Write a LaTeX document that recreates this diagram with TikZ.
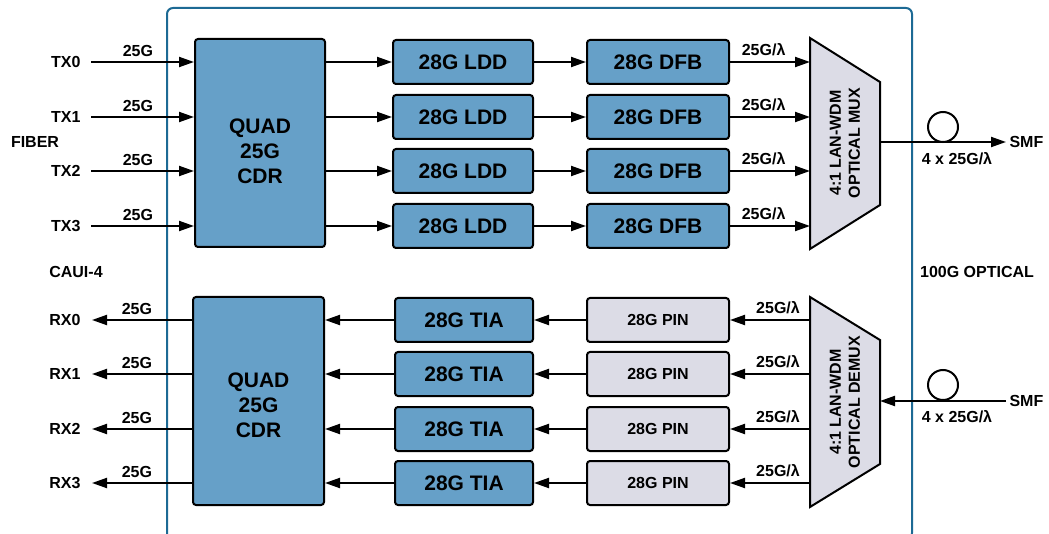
\documentclass[tikz,border=0pt]{standalone}
\usepackage{fontspec}
\setmainfont{Liberation Sans}
\usetikzlibrary{arrows.meta, positioning}
\definecolor{cdrblue}  {HTML}{66A0C8}
\definecolor{pingrey}  {HTML}{DCDCE6}
\definecolor{edgeblue} {HTML}{1D6A94}

\begin{document}
\begin{tikzpicture}[x=1pt, y=-1pt, font=\fontsize{16}{19}\selectfont\bfseries,
    blk/.style={draw, line width=2pt, rounded corners=3pt, fill=cdrblue, minimum height=44pt, inner sep=0pt, font=\fontsize{21}{25}\selectfont\bfseries},
    pinblk/.style={blk, fill=pingrey, font=\fontsize{16}{19}\selectfont\bfseries},
    arr/.style={line width=2pt, -{Triangle[length=15pt, width=10pt]}},
    ln/.style={line width=2pt}]
  \useasboundingbox (0,0) rectangle (1049,534);
  \draw[edgeblue, line width=2pt, rounded corners=6pt] (167,8) rectangle (912,539);

  % transmit path
  \node[blk, minimum width=130pt, minimum height=208pt, align=center] (cdrt) at (260,143) {\rule{0pt}{31pt}QUAD\\25G\\CDR};
  \draw[ln, fill=pingrey] (810,38) -- (880,82) -- (880,205) -- (810,249) -- cycle;
  \node[rotate=90, align=center] (mux) at (845,143) {4:1 LAN-WDM\\OPTICAL MUX};
  \coordinate (muxin) at (810,143);
  \coordinate (muxout) at (880,142);
  \foreach \i/\y in {0/62,1/117,2/171,3/226} {
    \node[blk, minimum width=140pt] (ldd\i) at (463,\y) {28G LDD};
    \node[blk, minimum width=142pt, right=52pt of ldd\i] (dfb\i) {28G DFB};
    \node[anchor=east] (tx\i) at (84,\y) {TX\i};
    \draw[arr, shorten <=7pt] (tx\i.east) -- node[above=1.5pt, pos=0.49] {25G} (tx\i -| cdrt.west);
    \draw[arr] (ldd\i.west -| cdrt.east) -- (ldd\i.west);
    \draw[arr] (ldd\i.east) -- (dfb\i.west);
    \draw[arr] (dfb\i.east) -- node[above=1.5pt, pos=0.42] {25G/λ} (dfb\i.east -| muxin);
  }
  \node[anchor=west] (smft) at (1006,142) {SMF};
  \draw[arr] (muxout) -- (smft.west);
  \node[draw, ln, circle, minimum size=30pt, inner sep=0pt] (loopt) at (943,127) {};
  \node (wdmt) at (957,159) {4 x 25G/λ};

  % labels
  \node (fiber) at (35,142) {FIBER};
  \node (caui) at (76,272) {CAUI-4};
  \node (optical) at (977,272) {100G OPTICAL};

  % receive path
  \node[blk, minimum width=131pt, minimum height=208pt, align=center] (cdrr) at (258.5,401) {\rule{0pt}{23pt}QUAD\\25G\\CDR};
  \draw[ln, fill=pingrey] (810,297) -- (880,340) -- (880,464) -- (810,507) -- cycle;
  \node[rotate=90, align=center] (demux) at (845,402) {4:1 LAN-WDM\\OPTICAL DEMUX};
  \coordinate (dmxin) at (880,401);
  \coordinate (dmxout) at (810,401);
  \foreach \i/\y in {0/320,1/374,2/429,3/483} {
    \node[blk, minimum width=138pt] (tia\i) at (464,\y) {28G TIA};
    \node[pinblk, minimum width=142pt, right=52pt of tia\i] (pin\i) {28G PIN};
    \node[anchor=east] (rx\i) at (84,\y) {RX\i};
    \draw[arr, shorten >=8pt] (rx\i -| cdrr.west) -- node[above=1.5pt, pos=0.51] {25G} (rx\i.east);
    \draw[arr] (tia\i.west) -- (tia\i.west -| cdrr.east);
    \draw[arr] (pin\i.west) -- (tia\i.east);
    \draw[arr] (pin\i.east -| dmxout) -- node[above=1.5pt, pos=0.4] {25G/λ} (pin\i.east);
  }
  \node[anchor=west] (smfr) at (1006,401) {SMF};
  \draw[arr] (smfr.west) -- (dmxin);
  \node[draw, ln, circle, minimum size=30pt, inner sep=0pt] (loopr) at (943,385) {};
  \node (wdmr) at (957,417) {4 x 25G/λ};
\end{tikzpicture}
\end{document}
